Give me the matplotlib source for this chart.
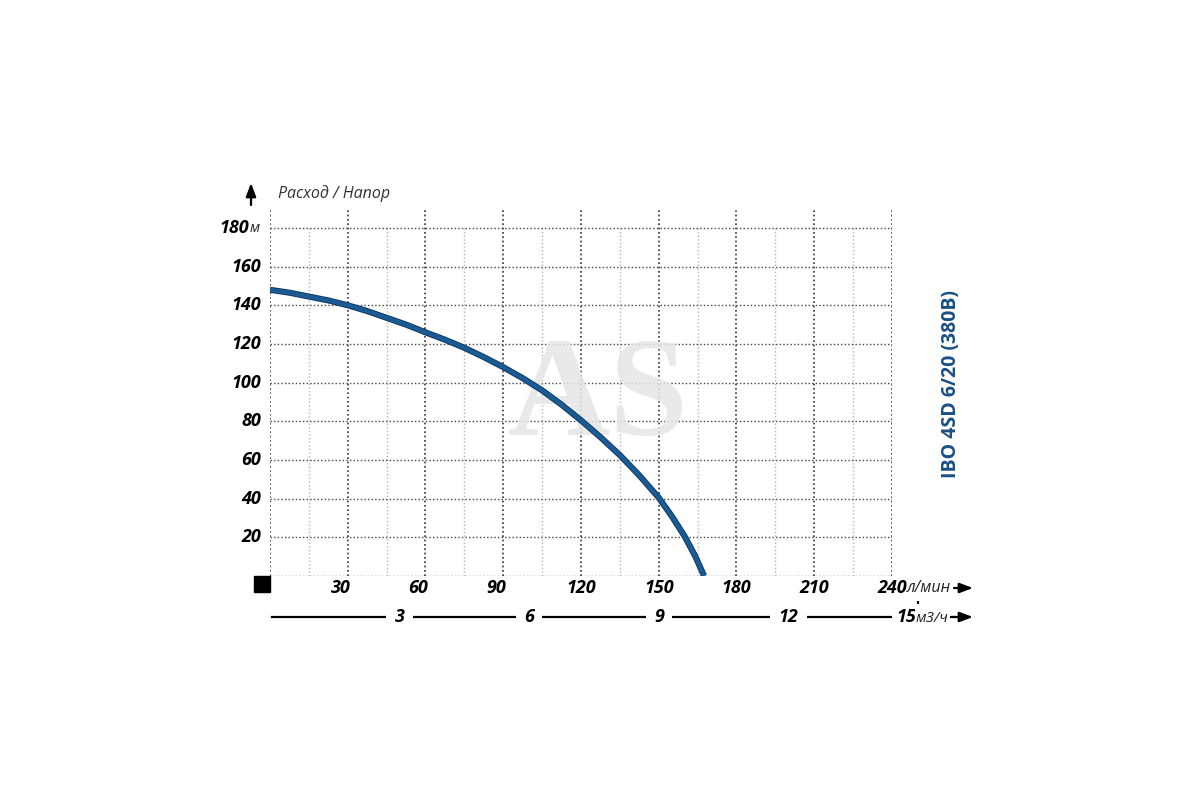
import matplotlib
matplotlib.use("Agg")
import matplotlib.pyplot as plt
import matplotlib.patheffects as pe
from matplotlib import transforms

# head curve: flow in l/min, head in m
flow = [0, 7.5, 15, 22.5, 30, 37.5, 45, 52.5, 60, 67.5, 75, 82.5, 90, 97.5, 105, 112.5,
        120, 127.5, 135, 142.5, 150, 155, 160, 164, 167.5]
head = [148, 146.5, 144.5, 142.5, 140, 137, 133.5, 130, 126, 122.2, 118, 113.2, 108, 102.3, 96, 88.6,
        80.5, 71.8, 62.5, 52, 40.5, 31, 20.5, 10.5, 0]

x_ticks = [30, 60, 90, 120, 150, 180, 210, 240]
y_ticks = [20, 40, 60, 80, 100, 120, 140, 160, 180]
m3h_ticks = [3, 6, 9, 12, 15]
title = "IBO 4SD 6/20 (380B)"

plt.rcParams['font.family'] = ['Open Sans', 'DejaVu Sans']

fig = plt.figure(figsize=(12, 8), dpi=100)
ax = fig.add_axes([0.225, 0.28, 0.51833, 0.46])
ax.set_xlim(0, 240)
ax.set_ylim(0, 190.3)
ax.axis('off')

# grid
dots = (0, (1, 1.6))
for q in range(15, 240, 30):
    ax.vlines(q, 0, 180, colors='#b5b5b5', linestyles=dots, lw=1, zorder=1)
for q in range(0, 241, 30):
    ax.vlines(q, 0, 190.3, colors='#333333', linestyles=dots, lw=1.2, zorder=1)
for h in range(0, 181, 20):
    ax.hlines(h, 0, 240, colors='#444444', linestyles=dots, lw=1, zorder=1)

# watermark
ax.text(126.6, 91, "AS", family='Liberation Serif', fontweight='bold', fontsize=102,
        color='#e6e6e6', alpha=0.85, ha='center', va='center', zorder=2)

ax.plot(flow, head, color='#1b5b93', lw=3.1, solid_capstyle='butt', solid_joinstyle='round',
        zorder=5, path_effects=[pe.Stroke(linewidth=4.4, foreground='#0d3563'), pe.Normal()])

# y tick labels
def yoff(dx, dy=0):
    return transforms.offset_copy(ax.get_yaxis_transform(), fig=fig, x=dx, y=dy, units='dots')

for h in y_ticks:
    if h == 180:
        ax.text(0, h, "180", transform=yoff(-21), ha='right', va='center',
                fontsize=13, fontweight='bold', style='italic')
        ax.text(0, h, "м", transform=yoff(-20, -1), ha='left', va='center',
                fontsize=10.5, style='italic', color='#222222')
    else:
        ax.text(0, h, str(h), transform=yoff(-9), ha='right', va='center',
                fontsize=13, fontweight='bold', style='italic')

# x tick labels (l/min)
def xoff(dx, dy):
    return transforms.offset_copy(ax.get_xaxis_transform(), fig=fig, x=dx, y=dy, units='dots')

for q in x_ticks:
    dx = -7 if q < 100 else 0
    ax.text(q, 0, str(q), transform=xoff(dx, -12), ha='center', va='center',
            fontsize=13, fontweight='bold', style='italic')
ax.text(240, 0, "л/мин", transform=xoff(15, -12), ha='left', va='center',
        fontsize=11.5, style='italic', color='#222222')
arrow = dict(arrowstyle='-|>,head_length=0.8,head_width=0.3', color='black', lw=1.6,
             shrinkA=0, shrinkB=0)
ax.annotate("", xy=(973, 212), xytext=(954, 212), xycoords='figure pixels', arrowprops=arrow)

# second axis (m3/h)
ax.plot([0.8, 264], [0, 0], transform=xoff(0, -41), color='black', lw=1.6,
        clip_on=False, zorder=1)
ax.annotate("", xy=(973, 183), xytext=(953, 183), xycoords='figure pixels', arrowprops=arrow)
for v in m3h_ticks:
    q = v * 1000 / 60
    ax.plot([q], [0], transform=xoff(0, -27.5), marker='|', ms=4, mew=1.5,
            color='black', clip_on=False)
    if v == 15:
        ax.text(q, 0, "15", transform=xoff(-12, -41), ha='center', va='center', fontsize=13,
                fontweight='bold', style='italic', zorder=4,
                bbox=dict(facecolor='white', edgecolor='none', pad=3))
        ax.text(q, 0, "м3/ч", transform=xoff(-2, -42), ha='left', va='center',
                fontsize=11, style='italic', color='#222222', zorder=4,
                bbox=dict(facecolor='white', edgecolor='none', pad=1))
    else:
        ax.text(q, 0, str(v), transform=xoff(0, -41), ha='center', va='center', fontsize=13,
                fontweight='bold', style='italic', zorder=4,
                bbox=dict(facecolor='white', edgecolor='none', pad=6))

# origin square and y arrow
ax.plot([-2.9], [-4.3], marker='s', ms=11, color='black', clip_on=False)
ax.annotate("", xy=(251, 617), xytext=(251, 595),
            xycoords='figure pixels',
            arrowprops=dict(arrowstyle='-|>,head_length=0.8,head_width=0.3', color='black',
                            lw=1.6, shrinkA=0, shrinkB=0))
fig.text(278 / 1200, 1 - 194 / 800, "Расход / Напор", fontsize=11.5, style='italic',
         color='#333333', ha='left', va='center')

fig.text(951 / 1200, 1 - 384 / 800, title, rotation=90, fontsize=14, fontweight='bold',
         color='#1a4f86', ha='center', va='center')

fig.savefig("out.png", dpi=100, facecolor='white')
